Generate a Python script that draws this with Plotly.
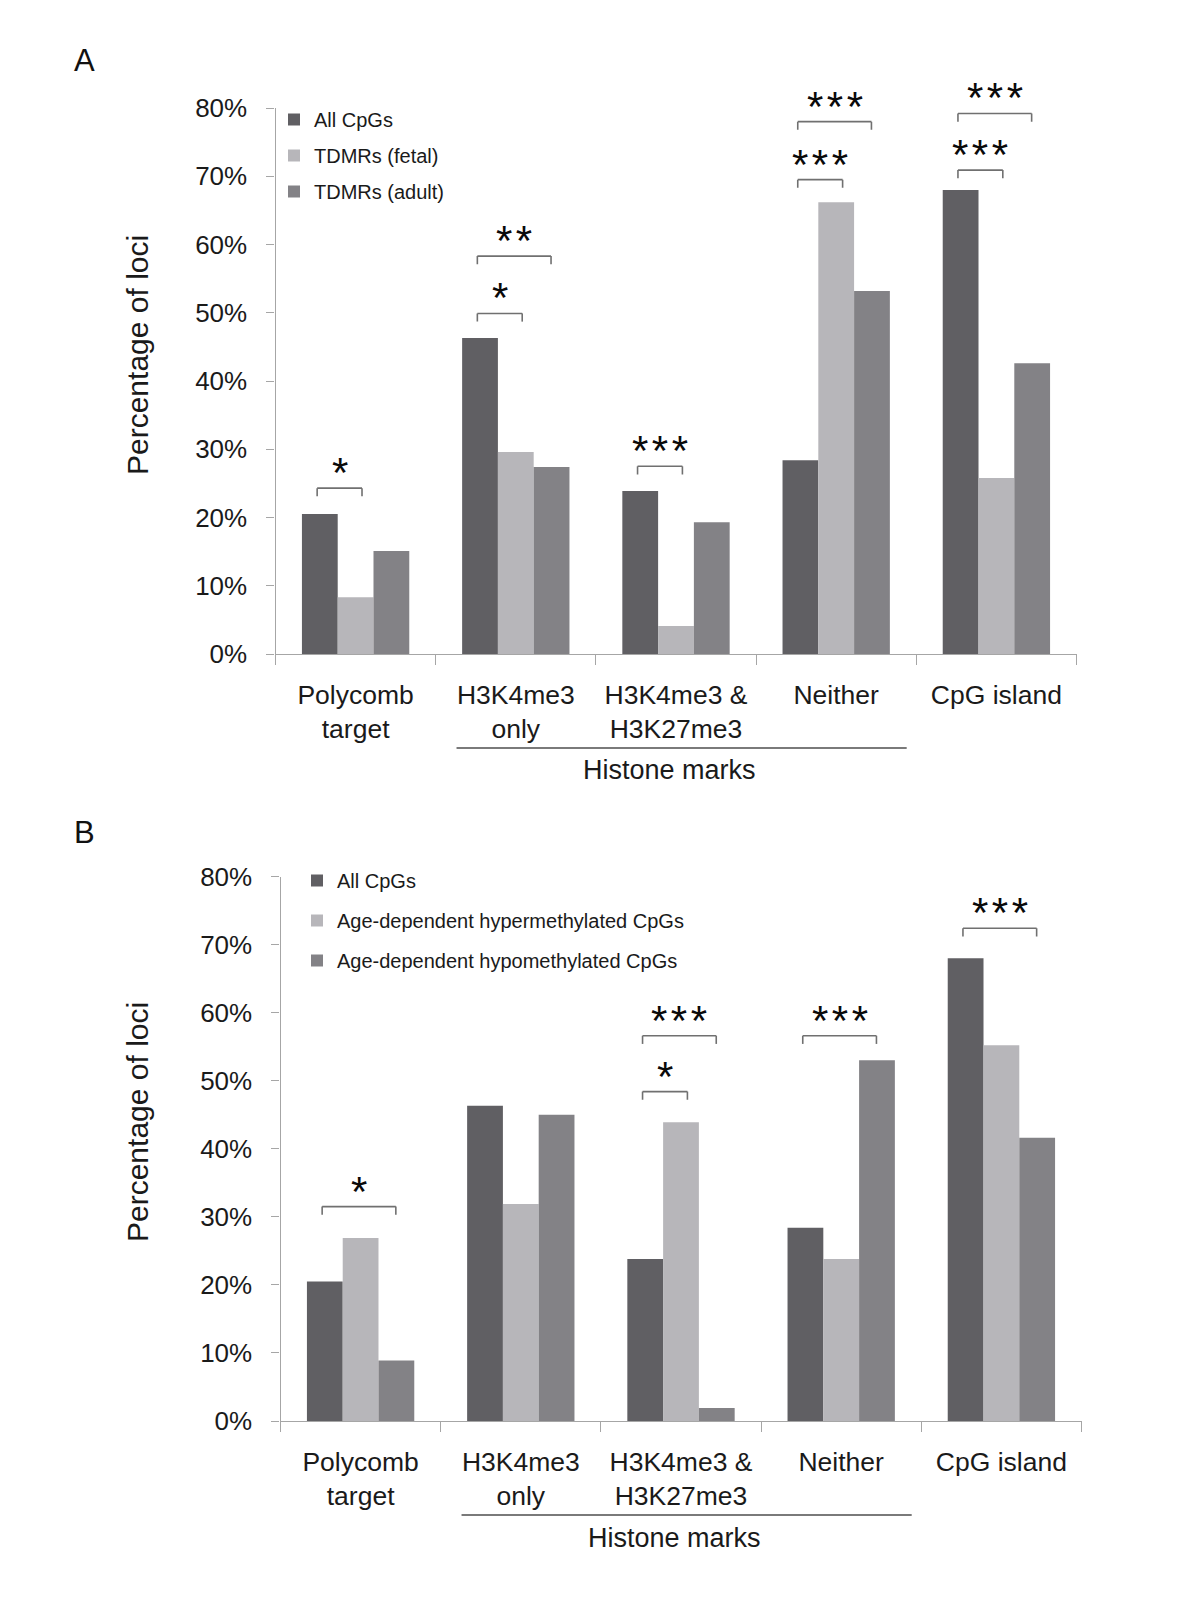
import plotly.graph_objects as go

categories = ["Polycomb<br>target", "H3K4me3<br>only", "H3K4me3 &<br>H3K27me3", "Neither", "CpG island"]
tick_labels_y = ["0%", "10%", "20%", "30%", "40%", "50%", "60%", "70%", "80%"]

# Panel A
a_all = [20.5, 46.3, 23.9, 28.4, 68.0]
a_fetal = [8.3, 29.6, 4.1, 66.2, 25.8]
a_adult = [15.1, 27.4, 19.3, 53.2, 42.6]
# Panel B
b_all = [20.5, 46.3, 23.8, 28.4, 68.0]
b_hyper = [26.9, 31.9, 43.9, 23.8, 55.2]
b_hypo = [8.9, 45.0, 1.9, 53.0, 41.6]

names_a = ["All CpGs", "TDMRs (fetal)", "TDMRs (adult)"]
names_b = ["All CpGs", "Age-dependent hypermethylated CpGs", "Age-dependent hypomethylated CpGs"]

# significance brackets: (category index, pair, level, label)
sig_a = [(0, "mid", 24.3, "*"), (1, "mid", 49.9, "*"), (1, "far", 58.3, "**"),
         (2, "mid", 27.5, "***"), (3, "mid", 69.5, "***"), (3, "far", 78.0, "***"),
         (4, "mid", 70.9, "***"), (4, "far", 79.2, "***")]
sig_b = [(0, "far", 31.5, "*"), (2, "mid", 48.4, "*"), (2, "far", 56.6, "***"),
         (3, "far", 56.6, "***"), (4, "far", 72.4, "***")]

colors = ["#605f63", "#b7b6ba", "#838286"]
FONT = "Liberation Sans, Arial, sans-serif"

fig = go.Figure()

for vals, nm, col in zip([a_all, a_fetal, a_adult], names_a, colors):
    fig.add_trace(go.Bar(x=categories, y=vals, name=nm, marker=dict(color=col, line=dict(width=0)),
                         xaxis="x", yaxis="y", legend="legend", legendgroup="A" + nm))
for vals, nm, col in zip([b_all, b_hyper, b_hypo], names_b, colors):
    fig.add_trace(go.Bar(x=categories, y=vals, name=nm, marker=dict(color=col, line=dict(width=0)),
                         xaxis="x2", yaxis="y2", legend="legend2", legendgroup="B" + nm))

W, H = 1200, 1600
def px(x):
    return x / W
def py(y):
    return 1 - y / H

axis_common = dict(showgrid=False, zeroline=False, showline=True, linecolor="#a6a6a6", linewidth=1.2,
                   ticks="outside", tickcolor="#a6a6a6", tickwidth=1.2, automargin=False)

xa = dict(axis_common, type="category", tickson="boundaries", ticklen=10,
          tickfont=dict(family=FONT, size=26.5, color="#1a1a1a"), ticklabelstandoff=17)
ya = dict(axis_common, range=[0, 80], tickvals=[0, 10, 20, 30, 40, 50, 60, 70, 80],
          ticktext=tick_labels_y, ticklen=8, tickfont=dict(family=FONT, size=26, color="#1a1a1a"),
          ticklabelstandoff=14)

fig.update_layout(
    template="none",
    width=W, height=H, margin=dict(l=0, r=0, t=0, b=0, pad=0, autoexpand=False),
    paper_bgcolor="white", plot_bgcolor="white",
    barmode="group", bargap=0.33, bargroupgap=0,
    xaxis=dict(xa, domain=[px(267.5), px(1068.5)], anchor="y"),
    yaxis=dict(ya, domain=[py(646), py(100)], anchor="x"),
    xaxis2=dict(xa, domain=[px(272.5), px(1073.5)], anchor="y2"),
    yaxis2=dict(ya, domain=[py(1413), py(868.5)], anchor="x2"),
    legend=dict(x=px(266), y=py(92), xanchor="left", yanchor="top", bgcolor="rgba(0,0,0,0)",
                font=dict(family=FONT, size=20, color="#1a1a1a"), traceorder="grouped",
                tracegroupgap=7, itemwidth=30),
    legend2=dict(x=px(289), y=py(853), xanchor="left", yanchor="top", bgcolor="rgba(0,0,0,0)",
                 font=dict(family=FONT, size=20, color="#1a1a1a"), traceorder="grouped",
                 tracegroupgap=11, itemwidth=30),
    showlegend=True,
)

shapes = []
annotations = []
offsets = {"mid": (-0.24, 0.04), "far": (-0.24, 0.22)}
bcol = "#707070"
hs = "\u200a"
for sig, xr, yr in [(sig_a, "x", "y"), (sig_b, "x2", "y2")]:
    for ci, pair, lvl, lab in sig:
        x0, x1 = ci + offsets[pair][0], ci + offsets[pair][1]
        drop = 1.2
        shapes.append(dict(type="line", xref=xr, yref=yr, x0=x0, x1=x1, y0=lvl, y1=lvl,
                           line=dict(color=bcol, width=1.6)))
        for xx in (x0, x1):
            shapes.append(dict(type="line", xref=xr, yref=yr, x0=xx, x1=xx, y0=lvl, y1=lvl - drop,
                               line=dict(color=bcol, width=1.6)))
        annotations.append(dict(x=(x0 + x1) / 2, y=lvl, xref=xr, yref=yr, text=hs.join(lab),
                                showarrow=False, xanchor="center", yanchor="bottom", yshift=-10,
                                font=dict(family=FONT, size=42, color="#0a0a0a")))

# Histone marks group lines and labels
for xr, ylinepx, ylabpx in [("x", 740, 762), ("x2", 1507, 1530)]:
    shapes.append(dict(type="line", xref=xr, yref="paper", x0=0.63, x1=3.44, y0=py(ylinepx), y1=py(ylinepx),
                       line=dict(color="#7a7a7a", width=2)))
    annotations.append(dict(x=1.96, y=py(ylabpx), xref=xr, yref="paper", text="Histone marks",
                            showarrow=False, xanchor="center", yanchor="middle",
                            font=dict(family=FONT, size=27, color="#1a1a1a")))

# y-axis titles
for ycen in (347, 1114):
    annotations.append(dict(x=px(129), y=py(ycen), xref="paper", yref="paper", text="Percentage of loci",
                            textangle=-90, showarrow=False, xanchor="center", yanchor="middle",
                            font=dict(family=FONT, size=30, color="#1a1a1a")))

# panel letters
annotations.append(dict(x=px(76), y=py(53), xref="paper", yref="paper", text="A", showarrow=False,
                        xanchor="center", yanchor="middle", font=dict(family=FONT, size=31, color="#111111")))
annotations.append(dict(x=px(76), y=py(824), xref="paper", yref="paper", text="B", showarrow=False,
                        xanchor="center", yanchor="middle", font=dict(family=FONT, size=31, color="#111111")))

fig.update_layout(shapes=shapes, annotations=annotations)
fig.write_html("out.html")
